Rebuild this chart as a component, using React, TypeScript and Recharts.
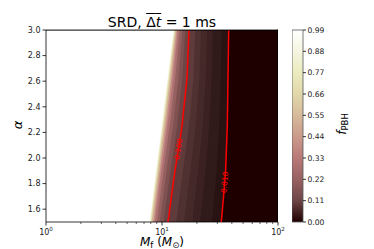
import React from 'react';
import { ComposedChart, Area, Line, XAxis, YAxis, CartesianGrid, BarChart, Bar } from 'recharts';

const FONT = '"DejaVu Sans", sans-serif';

const alphaRows = [1.5, 1.875, 2.25, 2.625, 3.0];

// f_PBH contour levels, lowest first
const levels = [0.01, 0.015, 0.025, 0.035, 0.05, 0.07, 0.1, 0.13, 0.18, 0.25, 0.35, 0.45, 0.6, 0.75, 0.9, 0.99];

// M_f (M_sun) where each level sits, one value per alphaRows entry
const contourMf = [
  [32.45, 35.27, 36.55, 37.07, 37.58], // 0.01
  [26.93, 29.5, 31.19, 32.13, 32.71], // 0.015
  [21.3, 23.57, 25.57, 26.82, 27.47], // 0.025
  [18.25, 20.35, 22.43, 23.81, 24.48], // 0.035
  [15.48, 17.4, 19.49, 20.97, 21.64], // 0.05
  [13.28, 14.99, 17.09, 18.65, 19.33], // 0.07
  [11.26, 12.82, 14.87, 16.43, 17.09], // 0.1
  [10.31, 11.71, 13.49, 14.97, 15.87], // 0.13
  [9.58, 10.86, 12.44, 13.86, 14.93], // 0.18
  [9.04, 10.22, 11.65, 13.02, 14.21], // 0.25
  [8.65, 9.77, 11.1, 12.43, 13.69], // 0.35
  [8.4, 9.48, 10.74, 12.05, 13.36], // 0.45
  [8.15, 9.2, 10.4, 11.69, 13.04], // 0.6
  [7.98, 8.99, 10.15, 11.42, 12.8], // 0.75
  [7.86, 8.86, 9.98, 11.24, 12.64], // 0.9
  [7.8, 8.79, 9.9, 11.15, 12.57], // 0.99
];

// the two labelled (red) contours, broken where the label sits
const line010 = [
  { alpha: 3.0, M: 17.09 },
  { alpha: 2.625, M: 16.43 },
  { alpha: 2.25, M: 14.87 },
  { alpha: 2.17, M: 14.44 },
  { alpha: 2.07, M: null },
  { alpha: 1.97, M: 13.31 },
  { alpha: 1.875, M: 12.82 },
  { alpha: 1.5, M: 11.26 },
];
const line001 = [
  { alpha: 3.0, M: 37.58 },
  { alpha: 2.625, M: 37.07 },
  { alpha: 2.25, M: 36.55 },
  { alpha: 1.906, M: 35.38 },
  { alpha: 1.81, M: null },
  { alpha: 1.711, M: 34.01 },
  { alpha: 1.5, M: 32.45 },
];
const contourLabels = [
  { alpha: 2.07, M: 13.85, text: '0.100' },
  { alpha: 1.81, M: 34.78, text: '0.010' },
];
const labelAngle: Record<string, number> = { '0.100': -81, '0.010': -85 };

const alphaTicks = [1.6, 1.8, 2.0, 2.2, 2.4, 2.6, 2.8, 3.0];
const mTicks = [1, 2, 3, 4, 5, 6, 7, 8, 9, 10, 20, 30, 40, 50, 60, 70, 80, 90, 100];
const cbarTicks = [0, 0.11, 0.22, 0.33, 0.44, 0.55, 0.66, 0.77, 0.88, 0.99];
const cbarData = [{ name: 'f', top: 0.99 }];

// matplotlib "pink" colormap
const hot = (x: number) => {
  const a = 0.365079;
  const b = 0.746032;
  const r = x < a ? 0.0416 + (x * (1 - 0.0416)) / a : 1;
  const g = x < a ? 0 : x < b ? (x - a) / (b - a) : 1;
  const bl = x < b ? 0 : (x - b) / (1 - b);
  return [r, g, bl];
};
const pink = (x: number) => {
  const t = Math.max(0, Math.min(1, x));
  const h = hot(t);
  const c = h.map((v) => Math.round(255 * Math.sqrt((2 * t + v) / 3)));
  return `rgb(${c[0]},${c[1]},${c[2]})`;
};
const bandColor = (i: number) => {
  const lo = levels[i];
  const hi = i + 1 < levels.length ? levels[i + 1] : 1;
  return pink(((lo + hi) / 2 - 0.005) / 0.99);
};

const bandRows = alphaRows.map((alpha, j) => {
  const row: Record<string, number> = { alpha };
  levels.forEach((_, i) => {
    row['c' + i] = contourMf[i][j];
  });
  return row;
});

const XTick = (props: any) => {
  const { x, y, payload } = props;
  const e = Math.log10(payload.value);
  const major = Math.abs(e - Math.round(e)) < 1e-6;
  return (
    <g>
      <line x1={x} x2={x} y1={y} y2={y + (major ? 3.5 : 2)} stroke="#000" strokeWidth={major ? 0.8 : 0.6} />
      {major && (
        <text x={x} y={y + 12.5} textAnchor="middle" fontSize={8} fill="#222" fontFamily={FONT}>
          10
          <tspan dy={-3.5} fontSize={5.6}>
            {Math.round(e)}
          </tspan>
        </text>
      )}
    </g>
  );
};

const ContourLabel = (props: any) => {
  const { cx, cy, payload } = props;
  if (cx == null || cy == null) return <g />;
  return (
    <text
      x={cx}
      y={cy}
      transform={`rotate(${labelAngle[payload.text]}, ${cx}, ${cy})`}
      textAnchor="middle"
      dominantBaseline="central"
      fontSize={7.5}
      fill="#ff0000"
      fontFamily={FONT}
    >
      {payload.text}
    </text>
  );
};

const txt: React.CSSProperties = { position: 'absolute', fontFamily: FONT, color: '#000', whiteSpace: 'nowrap' };
const sub: React.CSSProperties = { fontSize: 8.5, position: 'relative', top: 2 };

export default function App() {
  return (
    <div style={{ position: 'absolute', left: 0, top: 0, width: 374, height: 249, background: '#fff' }}>
      <div style={{ position: 'absolute', left: 0, top: 0 }}>
        <ComposedChart
          layout="vertical"
          width={374}
          height={249}
          data={bandRows}
          margin={{ top: 30, right: 96, bottom: 0, left: 0 }}
        >
          <CartesianGrid horizontal={false} vertical={false} fill={pink(0)} />
          <XAxis
            type="number"
            scale="log"
            domain={[1, 100]}
            allowDataOverflow
            ticks={mTicks}
            interval={0}
            tick={XTick}
            tickLine={false}
            tickSize={0}
            tickMargin={0}
            height={27}
            axisLine={{ stroke: '#000', strokeWidth: 0.8 }}
          />
          <YAxis
            type="number"
            dataKey="alpha"
            domain={[1.5, 3]}
            reversed
            allowDataOverflow
            ticks={alphaTicks}
            interval={0}
            width={46}
            tickSize={3.5}
            tickMargin={2}
            tickFormatter={(v: number) => v.toFixed(1)}
            tick={{ fontSize: 8, fill: '#222', fontFamily: FONT }}
            tickLine={{ stroke: '#000', strokeWidth: 0.8 }}
            axisLine={{ stroke: '#000', strokeWidth: 0.8 }}
          />
          {levels.map((lv, i) => (
            <Area
              key={lv}
              dataKey={'c' + i}
              type="linear"
              baseValue="dataMin"
              stroke="none"
              fill={bandColor(i)}
              fillOpacity={1}
              dot={false}
              activeDot={false}
              isAnimationActive={false}
            />
          ))}
        </ComposedChart>
      </div>

      {/* contour lines and their labels, on top of the filled bands */}
      <div style={{ position: 'absolute', left: 0, top: 0 }}>
        <ComposedChart layout="vertical" width={374} height={249} margin={{ top: 30, right: 96, bottom: 27, left: 46 }}>
          <XAxis type="number" scale="log" domain={[1, 100]} allowDataOverflow hide />
          <YAxis type="number" dataKey="alpha" domain={[1.5, 3]} reversed allowDataOverflow hide />
          <Line
            data={line010}
            dataKey="M"
            type="linear"
            stroke="#ff0000"
            strokeWidth={1.5}
            dot={false}
            activeDot={false}
            isAnimationActive={false}
          />
          <Line
            data={line001}
            dataKey="M"
            type="linear"
            stroke="#ff0000"
            strokeWidth={1.5}
            dot={false}
            activeDot={false}
            isAnimationActive={false}
          />
          <Line data={contourLabels} dataKey="M" stroke="none" dot={ContourLabel} activeDot={false} isAnimationActive={false} />
        </ComposedChart>
      </div>
      <div
        style={{
          position: 'absolute',
          left: 46,
          top: 30,
          width: 232,
          height: 192,
          boxSizing: 'border-box',
          borderTop: '0.8px solid #000',
          borderRight: '0.8px solid #000',
          transform: 'translate(0, -0.4px)',
        }}
      />

      <div style={{ position: 'absolute', left: 292, top: 0 }}>
        <BarChart width={71} height={249} data={cbarData} margin={{ top: 30, right: 0, bottom: 27, left: 0 }} barCategoryGap={0}>
          <defs>
            <linearGradient id="cbGrad" x1="0" y1="1" x2="0" y2="0">
              {cbarTicks.map((f) => (
                <stop key={f} offset={f / 0.99} stopColor={pink(f / 0.99)} />
              ))}
            </linearGradient>
          </defs>
          <XAxis dataKey="name" hide />
          <YAxis
            orientation="right"
            type="number"
            domain={[0, 0.99]}
            ticks={cbarTicks}
            interval={0}
            width={60}
            tickSize={3}
            tickMargin={1.5}
            tickFormatter={(v: number) => v.toFixed(2)}
            tick={{ fontSize: 7.6, fill: '#222', fontFamily: FONT, textAnchor: 'start' }}
            tickLine={{ stroke: '#000', strokeWidth: 0.8 }}
            axisLine={false}
          />
          <Bar dataKey="top" fill="url(#cbGrad)" stroke="#555" strokeWidth={0.8} isAnimationActive={false} />
        </BarChart>
      </div>

      <div style={{ ...txt, left: 0, width: 324, top: 15, fontSize: 14, lineHeight: '14px', textAlign: 'center' }}>
        SRD,{'  '}
        <span style={{ textDecoration: 'overline' }}>
          Δ<i>t</i>
        </span>
        {' = 1 ms'}
      </div>
      <div style={{ ...txt, left: 17, top: 125, fontSize: 13, lineHeight: '13px', transform: 'translate(-50%, -50%) rotate(-90deg)' }}>
        <i>α</i>
      </div>
      <div style={{ ...txt, left: 162, top: 237, fontSize: 12, lineHeight: '10px', transform: 'translateX(-50%)' }}>
        <i>M</i>
        <span style={sub}>f</span> (<i>M</i>
        <span style={sub}>⊙</span>)
      </div>
      <div style={{ ...txt, left: 342, top: 124, fontSize: 12, lineHeight: '12px', transform: 'translate(-50%, -50%) rotate(-90deg)' }}>
        <i>f</i>
        <span style={sub}>PBH</span>
      </div>
    </div>
  );
}
